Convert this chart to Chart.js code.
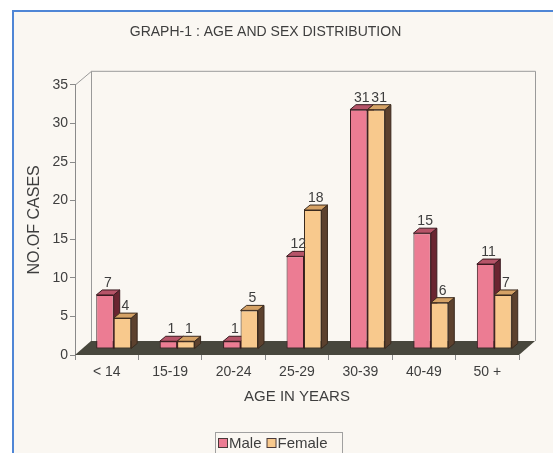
<!DOCTYPE html>
<html>
<head>
<meta charset="utf-8">
<title>Age and sex distribution</title>
<script src="https://cdn.jsdelivr.net/npm/chart.js@4/dist/chart.umd.min.js"></script>
<style>
  html, body { margin: 0; padding: 0; background: #ffffff; }
  #wrap { position: relative; width: 553px; height: 453px; }
</style>
</head>
<body>
<div id="wrap"><canvas id="chart"></canvas></div>
<script>
// ---- data ----
const ageGroups   = ['< 14', '15-19', '20-24', '25-29', '30-39', '40-49', '50 +'];
const maleCases   = [7, 1, 1, 12, 31, 15, 11];
const femaleCases = [4, 1, 5, 18, 31, 6, 7];
const seriesNames = ['Male', 'Female'];
const yMin = 0, yMax = 35, yStep = 5;

// ---- 3-D look ----
const BOX_DX = 16, BOX_DY = -14;        // front plane -> back wall
const BAR_SHIFT_X = 7, BAR_SHIFT_Y = -6; // bars stand in the middle of the box
const BAR_DX = 6, BAR_DY = -5;          // depth of each bar

const FONT = '"Liberation Sans", Arial, sans-serif';
const TEXT = '#3e3e3e';
const faces = [
  { front: '#ec7c93', side: '#6a2531', top: '#b65468', edge: '#3a1a20' },
  { front: '#f8c98d', side: '#5c412e', top: '#d5a266', edge: '#3a2a1e' }
];

// page background and the blue frame line
const framePlugin = {
  id: 'frame',
  beforeDraw(chart) {
    const { ctx, width, height } = chart;
    ctx.save();
    ctx.fillStyle = '#ffffff';
    ctx.fillRect(0, 0, width, height);
    ctx.fillStyle = '#faf7f2';
    ctx.fillRect(12, 10, width - 12, height - 10);
    ctx.strokeStyle = '#4f86d6';
    ctx.lineWidth = 2;
    ctx.beginPath();
    ctx.moveTo(13, height);
    ctx.lineTo(13, 11);
    ctx.lineTo(width, 11);
    ctx.stroke();
    ctx.restore();
  }
};

// back wall outline, floor, bar sides/tops, value labels, legend
const boxPlugin = {
  id: 'box3d',
  beforeDatasetsDraw(chart) {
    const { ctx, chartArea: a } = chart;
    const y = chart.scales.y;
    const y0 = y.getPixelForValue(yMin), yTop = y.getPixelForValue(yMax);
    ctx.save();
    // floor
    ctx.fillStyle = '#48473d';
    ctx.beginPath();
    ctx.moveTo(a.left, y0);
    ctx.lineTo(a.right, y0);
    ctx.lineTo(a.right + BOX_DX, y0 + BOX_DY);
    ctx.lineTo(a.left + BOX_DX, y0 + BOX_DY);
    ctx.closePath();
    ctx.fill();
    // wall edges
    ctx.strokeStyle = '#9a9a9a';
    ctx.lineWidth = 1;
    ctx.beginPath();
    ctx.moveTo(a.left + 0.5, yTop);
    ctx.lineTo(a.left + BOX_DX + 0.5, yTop + BOX_DY + 0.5);
    ctx.lineTo(a.right + BOX_DX + 0.5, yTop + BOX_DY + 0.5);
    ctx.lineTo(a.right + BOX_DX + 0.5, y0 + BOX_DY);
    ctx.moveTo(a.left + BOX_DX + 0.5, yTop + BOX_DY + 0.5);
    ctx.lineTo(a.left + BOX_DX + 0.5, y0 + BOX_DY);
    ctx.stroke();
    ctx.restore();

    // bars are drawn shifted into the box; restored after the datasets
    ctx.save();
    ctx.translate(BAR_SHIFT_X, BAR_SHIFT_Y);
    chart.data.datasets.forEach((ds, di) => {
      const f = faces[di];
      chart.getDatasetMeta(di).data.forEach(bar => {
        const p = bar.getProps(['x', 'y', 'base', 'width'], true);
        const L = p.x - p.width / 2, R = p.x + p.width / 2, T = p.y, B = p.base;
        ctx.lineWidth = 1;
        ctx.strokeStyle = f.edge;
        // side
        ctx.fillStyle = f.side;
        ctx.beginPath();
        ctx.moveTo(R, T); ctx.lineTo(R + BAR_DX, T + BAR_DY);
        ctx.lineTo(R + BAR_DX, B + BAR_DY); ctx.lineTo(R, B);
        ctx.closePath(); ctx.fill(); ctx.stroke();
        // top
        ctx.fillStyle = f.top;
        ctx.beginPath();
        ctx.moveTo(L, T); ctx.lineTo(L + BAR_DX, T + BAR_DY);
        ctx.lineTo(R + BAR_DX, T + BAR_DY); ctx.lineTo(R, T);
        ctx.closePath(); ctx.fill(); ctx.stroke();
      });
    });
  },
  afterDatasetsDraw(chart) {
    const { ctx } = chart;
    ctx.font = '14px ' + FONT;
    ctx.fillStyle = TEXT;
    ctx.textAlign = 'center';
    ctx.textBaseline = 'bottom';
    chart.data.datasets.forEach((ds, di) => {
      chart.getDatasetMeta(di).data.forEach((bar, i) => {
        const p = bar.getProps(['x', 'y'], true);
        ctx.fillText(String(ds.data[i]), p.x + BAR_DX / 2, p.y + BAR_DY);
      });
    });
    ctx.restore();
  },
  afterDraw(chart) {
    const { ctx } = chart;
    ctx.save();
    // legend box
    ctx.strokeStyle = '#a0a0a0';
    ctx.lineWidth = 1;
    ctx.strokeRect(215.5, 432.5, 127, 30);
    ctx.font = '15px ' + FONT;
    ctx.textBaseline = 'middle';
    ctx.textAlign = 'left';
    let x = 218;
    chart.data.datasets.forEach((ds, di) => {
      ctx.fillStyle = faces[di].front;
      ctx.fillRect(x + 0.5, 438.5, 9, 9);
      ctx.strokeStyle = '#4a3a3a';
      ctx.strokeRect(x + 0.5, 438.5, 9, 9);
      ctx.fillStyle = TEXT;
      ctx.fillText(ds.label, x + 11, 443.5);
      x += 11 + ctx.measureText(ds.label).width + 5;
    });
    ctx.restore();
  }
};

new Chart(document.getElementById('chart'), {
  type: 'bar',
  data: {
    labels: ageGroups,
    datasets: [
      { label: seriesNames[0], data: maleCases, backgroundColor: faces[0].front, borderColor: faces[0].edge },
      { label: seriesNames[1], data: femaleCases, backgroundColor: faces[1].front, borderColor: faces[1].edge }
    ]
  },
  options: {
    responsive: true,
    maintainAspectRatio: false,
    animation: false,
    devicePixelRatio: 1,
    layout: { padding: { left: 12, right: 34, top: 20, bottom: 46 } },
    datasets: {
      bar: {
        borderWidth: 1,
        borderSkipped: false,
        barPercentage: 1,
        categoryPercentage: 0.55,
        clip: false
      }
    },
    plugins: {
      legend: { display: false },
      tooltip: { enabled: false },
      title: {
        display: true,
        text: 'GRAPH-1 : AGE AND SEX DISTRIBUTION',
        color: TEXT,
        font: { family: FONT, size: 14, weight: 'normal' },
        padding: { top: 4, bottom: 44 }
      }
    },
    scales: {
      x: {
        offset: true,
        grid: { drawOnChartArea: false, tickLength: 5, color: '#8a8a8a', offset: true },
        border: { display: false },
        ticks: { color: TEXT, font: { family: FONT, size: 14 }, padding: 4, maxRotation: 0 },
        title: {
          display: true, text: 'AGE IN YEARS', color: TEXT,
          font: { family: FONT, size: 15 }, padding: { top: 0, bottom: 1 }
        },
        afterFit(scale) { scale.height = 52; }
      },
      y: {
        min: yMin, max: yMax,
        grid: { drawOnChartArea: false, tickLength: 5, color: '#8a8a8a' },
        border: { display: true, color: '#8a8a8a' },
        ticks: { stepSize: yStep, color: TEXT, font: { family: FONT, size: 14 }, padding: 2 },
        title: {
          display: true, text: 'NO.OF CASES', color: TEXT,
          font: { family: FONT, size: 16 }, padding: { top: 13, bottom: 0 }
        },
        afterFit(scale) { scale.width = 63; }
      }
    }
  },
  plugins: [framePlugin, boxPlugin]
});
</script>
</body>
</html>
